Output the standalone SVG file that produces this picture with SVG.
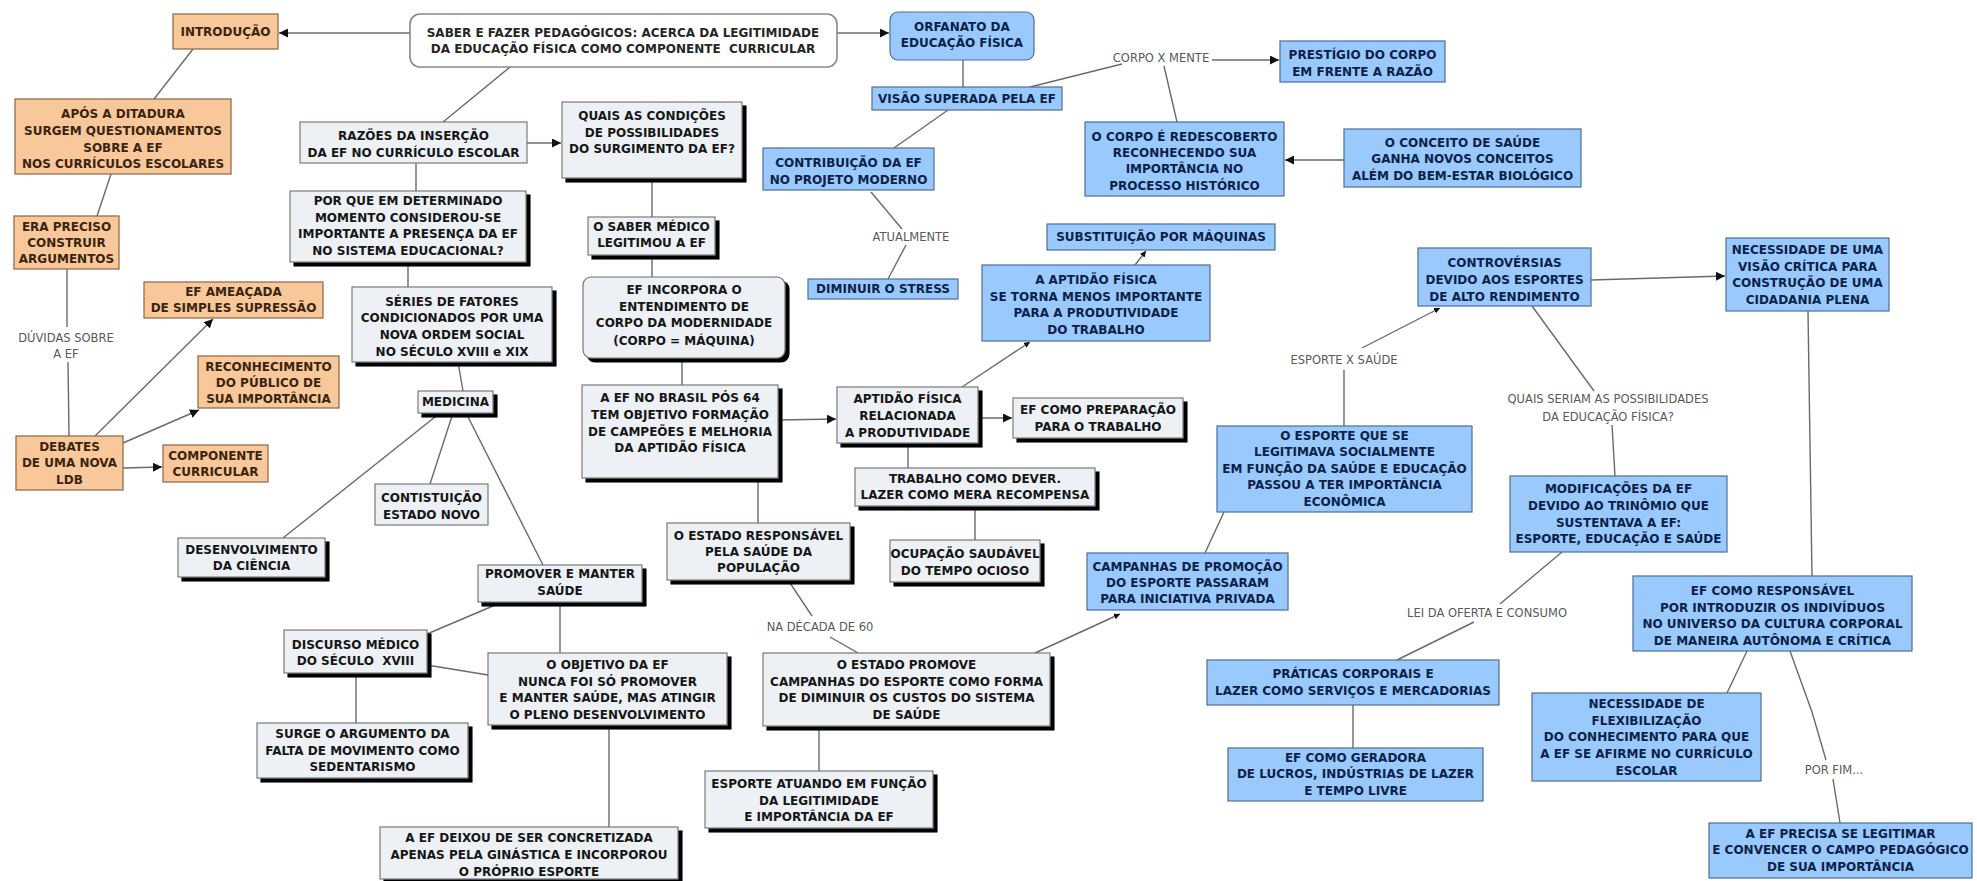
<svg xmlns="http://www.w3.org/2000/svg" width="1977" height="881" viewBox="0 0 1977 881">
<style>
  .bg{fill:#ffffff}
  .o rect{fill:#F8C89A;stroke:#8F6440;stroke-width:1.2}
  .o text{fill:#3A2410}
  .g rect{fill:#EDF1F5;stroke:#6E6E6E;stroke-width:1.1}
  .g text{fill:#161616}
  .s rect{filter:url(#shadow)}
  .b rect{fill:#9ACAFD;stroke:#4E6E96;stroke-width:1.2}
  .b text{fill:#0C2148}
  .w rect{fill:#ffffff;stroke:#8A8A8A;stroke-width:1.6}
  .w text{fill:#262626}
  .node text{font-family:"DejaVu Sans",Verdana,sans-serif;font-weight:bold;font-size:12px;text-anchor:middle}
  .lbl{font-family:"DejaVu Sans",Verdana,sans-serif;font-size:11.5px;fill:#595959;text-anchor:middle}
  .c line,.c polyline{stroke:#6A6A6A;stroke-width:1.4;fill:none}
  .c .a{marker-end:url(#ah)}
  .c .sa{marker-end:url(#ahs)}
</style>
<defs>
  <filter id="shadow" x="-5%" y="-5%" width="115%" height="125%">
    <feOffset in="SourceAlpha" dx="4" dy="4" result="off"/>
    <feGaussianBlur in="off" stdDeviation="0.7" result="blur"/>
    <feMerge><feMergeNode in="blur"/><feMergeNode in="SourceGraphic"/></feMerge>
  </filter>
  <marker id="ah" viewBox="0 0 10 10" refX="10" refY="5" markerWidth="9" markerHeight="9" markerUnits="userSpaceOnUse" orient="auto">
    <path d="M0,0 L10,5 L0,10 z" fill="#111"/>
  </marker>
  <marker id="ahs" viewBox="0 0 10 10" refX="10" refY="5" markerWidth="6" markerHeight="6" markerUnits="userSpaceOnUse" orient="auto">
    <path d="M0,0 L10,5 L0,10 z" fill="#111"/>
  </marker>
</defs>
<rect class="bg" x="0" y="0" width="1977" height="881"/>

<!-- connectors and their labels -->
<g id="connectors" class="c">
  <line class="a" x1="410" y1="33" x2="279" y2="33"/>
  <line class="a" x1="837" y1="33" x2="889" y2="33"/>
  <line x1="510" y1="67" x2="443" y2="122"/>
  <line x1="193" y1="49" x2="154" y2="99"/>
  <line x1="111" y1="174" x2="97" y2="216"/>
  <line x1="67" y1="269" x2="67" y2="327"/>
  <line x1="68" y1="362" x2="69" y2="436"/>
  <line class="a" x1="95" y1="436" x2="213" y2="319"/>
  <line class="a" x1="123" y1="443" x2="199" y2="410"/>
  <line class="a" x1="123" y1="468" x2="162" y2="467"/>
  <line class="a" x1="527" y1="143" x2="561" y2="143"/>
  <line x1="416" y1="163" x2="416" y2="191"/>
  <line x1="408" y1="262" x2="408" y2="287"/>
  <line x1="458" y1="362" x2="463" y2="391"/>
  <line x1="440" y1="413" x2="283" y2="538"/>
  <line x1="453" y1="413" x2="430" y2="484"/>
  <line x1="466" y1="413" x2="543" y2="565"/>
  <line x1="500" y1="603" x2="427" y2="634"/>
  <line x1="560" y1="602" x2="560" y2="653"/>
  <line x1="427" y1="665" x2="488" y2="675"/>
  <line x1="356" y1="673" x2="356" y2="723"/>
  <line x1="609" y1="725" x2="609" y2="827"/>
  <line x1="652" y1="178" x2="652" y2="217"/>
  <line x1="652" y1="255" x2="652" y2="277"/>
  <line x1="682" y1="358" x2="682" y2="385"/>
  <line class="a" x1="778" y1="420" x2="836" y2="419"/>
  <line x1="758" y1="478" x2="758" y2="523"/>
  <line x1="788" y1="580" x2="812" y2="616"/>
  <line x1="830" y1="637" x2="858" y2="653"/>
  <line x1="819" y1="726" x2="819" y2="771"/>
  <line class="sa" x1="1035" y1="653" x2="1120" y2="614"/>
  <line x1="1205" y1="553" x2="1224" y2="512"/>
  <line x1="1344" y1="426" x2="1344" y2="370"/>
  <line class="sa" x1="1362" y1="348" x2="1440" y2="308"/>
  <line class="a" x1="1591" y1="280" x2="1725" y2="276"/>
  <line x1="1532" y1="306" x2="1594" y2="391"/>
  <line x1="1612" y1="425" x2="1615" y2="476"/>
  <line x1="1562" y1="552" x2="1500" y2="604"/>
  <line x1="1474" y1="622" x2="1397" y2="660"/>
  <line x1="1353" y1="705" x2="1353" y2="748"/>
  <line x1="1808" y1="311" x2="1812" y2="576"/>
  <line x1="1747" y1="651" x2="1727" y2="693"/>
  <polyline points="1790,651 1812,712 1826,760"/>
  <line x1="1833" y1="779" x2="1840" y2="823"/>
  <line class="sa" x1="1135" y1="265" x2="1146" y2="251"/>
  <line class="sa" x1="962" y1="387" x2="1030" y2="342"/>
  <line class="a" x1="978" y1="418" x2="1012" y2="418"/>
  <line x1="908" y1="443" x2="908" y2="468"/>
  <line x1="975" y1="506" x2="975" y2="540"/>
  <line x1="963" y1="60" x2="963" y2="87"/>
  <line x1="1030" y1="87" x2="1122" y2="64"/>
  <line class="a" x1="1212" y1="60" x2="1279" y2="60"/>
  <line x1="1164" y1="66" x2="1177" y2="122"/>
  <line class="a" x1="1344" y1="160" x2="1285" y2="160"/>
  <line x1="948" y1="110" x2="894" y2="148"/>
  <line x1="871" y1="192" x2="902" y2="229"/>
  <line x1="906" y1="245" x2="888" y2="279"/>

  <text class="lbl" x="66" y="342">DÚVIDAS SOBRE</text>
  <text class="lbl" x="66" y="358">A EF</text>
  <text class="lbl" x="1161" y="62">CORPO X MENTE</text>
  <text class="lbl" x="911" y="241">ATUALMENTE</text>
  <text class="lbl" x="1344" y="364">ESPORTE X SAÚDE</text>
  <text class="lbl" x="1608" y="403">QUAIS SERIAM AS POSSIBILIDADES</text>
  <text class="lbl" x="1608" y="421">DA EDUCAÇÃO FÍSICA?</text>
  <text class="lbl" x="820" y="631">NA DÉCADA DE 60</text>
  <text class="lbl" x="1487" y="617">LEI DA OFERTA E CONSUMO</text>
  <text class="lbl" x="1834" y="774">POR FIM...</text>
</g>

<!-- root -->
<g id="n-root" class="node w">
  <rect x="410" y="14" width="427" height="53" rx="10"/>
  <text xml:space="preserve"><tspan x="623" y="37">SABER E FAZER PEDAGÓGICOS: ACERCA DA LEGITIMIDADE</tspan><tspan x="623" y="53">DA EDUCAÇÃO FÍSICA COMO COMPONENTE  CURRICULAR</tspan></text>
</g>

<!-- introduction branch -->
<g id="n-intro" class="node o">
  <rect x="173" y="14" width="105" height="35"/>
  <text><tspan x="225.5" y="36">INTRODUÇÃO</tspan></text>
</g>
<g id="n-apos" class="node o">
  <rect x="15" y="99" width="216" height="75"/>
  <text><tspan x="123" y="118">APÓS A DITADURA</tspan><tspan x="123" y="135">SURGEM QUESTIONAMENTOS</tspan><tspan x="123" y="152">SOBRE A EF</tspan><tspan x="123" y="168">NOS CURRÍCULOS ESCOLARES</tspan></text>
</g>
<g id="n-era" class="node o">
  <rect x="14" y="216" width="105" height="53"/>
  <text><tspan x="66.5" y="231">ERA PRECISO</tspan><tspan x="66.5" y="247">CONSTRUIR</tspan><tspan x="66.5" y="263">ARGUMENTOS</tspan></text>
</g>
<g id="n-ameacada" class="node o">
  <rect x="144" y="282" width="179" height="36"/>
  <text><tspan x="233.5" y="296">EF AMEAÇADA</tspan><tspan x="233.5" y="312">DE SIMPLES SUPRESSÃO</tspan></text>
</g>
<g id="n-reconhecimento" class="node o">
  <rect x="198" y="356" width="141" height="52"/>
  <text><tspan x="268.5" y="371">RECONHECIMENTO</tspan><tspan x="268.5" y="387">DO PÚBLICO DE</tspan><tspan x="268.5" y="403">SUA IMPORTÂNCIA</tspan></text>
</g>
<g id="n-debates" class="node o">
  <rect x="16" y="436" width="107" height="54"/>
  <text><tspan x="69.5" y="451">DEBATES</tspan><tspan x="69.5" y="467">DE UMA NOVA</tspan><tspan x="69.5" y="484">LDB</tspan></text>
</g>
<g id="n-componente" class="node o">
  <rect x="163" y="445" width="105" height="37"/>
  <text><tspan x="215.5" y="460">COMPONENTE</tspan><tspan x="215.5" y="476">CURRICULAR</tspan></text>
</g>

<!-- reasons branch -->
<g id="n-razoes" class="node g">
  <rect x="300" y="122" width="227" height="41"/>
  <text><tspan x="413.5" y="140">RAZÕES DA INSERÇÃO</tspan><tspan x="413.5" y="157">DA EF NO CURRÍCULO ESCOLAR</tspan></text>
</g>
<g id="n-quais" class="node g s">
  <rect x="562" y="102" width="180" height="76"/>
  <text><tspan x="652" y="120">QUAIS AS CONDIÇÕES</tspan><tspan x="652" y="137">DE POSSIBILIDADES</tspan><tspan x="652" y="153">DO SURGIMENTO DA EF?</tspan></text>
</g>
<g id="n-porque" class="node g s">
  <rect x="290" y="191" width="236" height="71"/>
  <text><tspan x="408" y="205">POR QUE EM DETERMINADO</tspan><tspan x="408" y="222">MOMENTO CONSIDEROU-SE</tspan><tspan x="408" y="238">IMPORTANTE A PRESENÇA DA EF</tspan><tspan x="408" y="255">NO SISTEMA EDUCACIONAL?</tspan></text>
</g>
<g id="n-saber" class="node g s">
  <rect x="588" y="217" width="127" height="38"/>
  <text><tspan x="651.5" y="231">O SABER MÉDICO</tspan><tspan x="651.5" y="247">LEGITIMOU A EF</tspan></text>
</g>
<g id="n-incorpora" class="node g s">
  <rect x="583" y="277" width="202" height="81" rx="8"/>
  <text><tspan x="684" y="294">EF INCORPORA O</tspan><tspan x="684" y="311">ENTENDIMENTO DE</tspan><tspan x="684" y="327">CORPO DA MODERNIDADE</tspan><tspan x="684" y="345">(CORPO = MÁQUINA)</tspan></text>
</g>
<g id="n-series" class="node g s">
  <rect x="352" y="287" width="200" height="75"/>
  <text><tspan x="452" y="306">SÉRIES DE FATORES</tspan><tspan x="452" y="322">CONDICIONADOS POR UMA</tspan><tspan x="452" y="339">NOVA ORDEM SOCIAL</tspan><tspan x="452" y="356">NO SÉCULO XVIII e XIX</tspan></text>
</g>
<g id="n-medicina" class="node g s">
  <rect x="418" y="391" width="75" height="22"/>
  <text><tspan x="455.5" y="406">MEDICINA</tspan></text>
</g>
<g id="n-constituicao" class="node g">
  <rect x="375" y="484" width="113" height="41"/>
  <text><tspan x="431.5" y="502">CONTISTUIÇÃO</tspan><tspan x="431.5" y="519">ESTADO NOVO</tspan></text>
</g>
<g id="n-desenvolvimento" class="node g s">
  <rect x="178" y="538" width="147" height="39"/>
  <text><tspan x="251.5" y="554">DESENVOLVIMENTO</tspan><tspan x="251.5" y="570">DA CIÊNCIA</tspan></text>
</g>
<g id="n-promover" class="node g s">
  <rect x="478" y="565" width="164" height="37"/>
  <text><tspan x="560" y="578">PROMOVER E MANTER</tspan><tspan x="560" y="595">SAÚDE</tspan></text>
</g>
<g id="n-discurso" class="node g s">
  <rect x="284" y="630" width="143" height="43"/>
  <text xml:space="preserve"><tspan x="355.5" y="649">DISCURSO MÉDICO</tspan><tspan x="355.5" y="665">DO SÉCULO  XVIII</tspan></text>
</g>
<g id="n-objetivo" class="node g s">
  <rect x="488" y="653" width="239" height="72"/>
  <text><tspan x="607.5" y="669">O OBJETIVO DA EF</tspan><tspan x="607.5" y="686">NUNCA FOI SÓ PROMOVER</tspan><tspan x="607.5" y="702">E MANTER SAÚDE, MAS ATINGIR</tspan><tspan x="607.5" y="719">O PLENO DESENVOLVIMENTO</tspan></text>
</g>
<g id="n-surge" class="node g s">
  <rect x="257" y="723" width="211" height="55"/>
  <text><tspan x="362.5" y="738">SURGE O ARGUMENTO DA</tspan><tspan x="362.5" y="755">FALTA DE MOVIMENTO COMO</tspan><tspan x="362.5" y="771">SEDENTARISMO</tspan></text>
</g>
<g id="n-deixou" class="node g s">
  <rect x="380" y="827" width="298" height="52"/>
  <text><tspan x="529" y="842">A EF DEIXOU DE SER CONCRETIZADA</tspan><tspan x="529" y="859">APENAS PELA GINÁSTICA E INCORPOROU</tspan><tspan x="529" y="876">O PRÓPRIO ESPORTE</tspan></text>
</g>
<g id="n-brasil" class="node g s">
  <rect x="582" y="385" width="196" height="93"/>
  <text><tspan x="680" y="402">A EF NO BRASIL PÓS 64</tspan><tspan x="680" y="419">TEM OBJETIVO FORMAÇÃO</tspan><tspan x="680" y="436">DE CAMPEÕES E MELHORIA</tspan><tspan x="680" y="452">DA APTIDÃO FÍSICA</tspan></text>
</g>
<g id="n-aptidao" class="node g s">
  <rect x="837" y="387" width="141" height="56"/>
  <text><tspan x="907.5" y="403">APTIDÃO FÍSICA</tspan><tspan x="907.5" y="420">RELACIONADA</tspan><tspan x="907.5" y="437">A PRODUTIVIDADE</tspan></text>
</g>
<g id="n-preparacao" class="node g s">
  <rect x="1013" y="398" width="170" height="40"/>
  <text><tspan x="1098" y="414">EF COMO PREPARAÇÃO</tspan><tspan x="1098" y="431">PARA O TRABALHO</tspan></text>
</g>
<g id="n-trabalho" class="node g s">
  <rect x="855" y="468" width="240" height="38"/>
  <text><tspan x="975" y="483">TRABALHO COMO DEVER.</tspan><tspan x="975" y="499">LAZER COMO MERA RECOMPENSA</tspan></text>
</g>
<g id="n-ocupacao" class="node g s">
  <rect x="890" y="540" width="150" height="42"/>
  <text><tspan x="965" y="558">OCUPAÇÃO SAUDÁVEL</tspan><tspan x="965" y="575">DO TEMPO OCIOSO</tspan></text>
</g>
<g id="n-estado-resp" class="node g s">
  <rect x="667" y="523" width="183" height="57"/>
  <text><tspan x="758.5" y="540">O ESTADO RESPONSÁVEL</tspan><tspan x="758.5" y="556">PELA SAÚDE DA</tspan><tspan x="758.5" y="572">POPULAÇÃO</tspan></text>
</g>
<g id="n-estado-promove" class="node g s">
  <rect x="763" y="653" width="287" height="73"/>
  <text><tspan x="906.5" y="669">O ESTADO PROMOVE</tspan><tspan x="906.5" y="686">CAMPANHAS DO ESPORTE COMO FORMA</tspan><tspan x="906.5" y="702">DE DIMINUIR OS CUSTOS DO SISTEMA</tspan><tspan x="906.5" y="719">DE SAÚDE</tspan></text>
</g>
<g id="n-atuando" class="node g s">
  <rect x="705" y="771" width="228" height="57"/>
  <text><tspan x="819" y="788">ESPORTE ATUANDO EM FUNÇÃO</tspan><tspan x="819" y="805">DA LEGITIMIDADE</tspan><tspan x="819" y="821">E IMPORTÂNCIA DA EF</tspan></text>
</g>

<!-- orphanhood branch -->
<g id="n-orfanato" class="node b">
  <rect x="890" y="12" width="144" height="48" rx="8"/>
  <text><tspan x="962" y="31">ORFANATO DA</tspan><tspan x="962" y="47">EDUCAÇÃO FÍSICA</tspan></text>
</g>
<g id="n-visao" class="node b">
  <rect x="872" y="87" width="190" height="23"/>
  <text><tspan x="967" y="103">VISÃO SUPERADA PELA EF</tspan></text>
</g>
<g id="n-prestigio" class="node b">
  <rect x="1280" y="41" width="165" height="41"/>
  <text><tspan x="1362.5" y="59">PRESTÍGIO DO CORPO</tspan><tspan x="1362.5" y="76">EM FRENTE A RAZÃO</tspan></text>
</g>
<g id="n-corpo" class="node b">
  <rect x="1085" y="122" width="199" height="74"/>
  <text><tspan x="1184.5" y="141">O CORPO É REDESCOBERTO</tspan><tspan x="1184.5" y="157">RECONHECENDO SUA</tspan><tspan x="1184.5" y="173">IMPORTÂNCIA NO</tspan><tspan x="1184.5" y="190">PROCESSO HISTÓRICO</tspan></text>
</g>
<g id="n-conceito" class="node b">
  <rect x="1344" y="129" width="237" height="58"/>
  <text><tspan x="1462.5" y="147">O CONCEITO DE SAÚDE</tspan><tspan x="1462.5" y="163">GANHA NOVOS CONCEITOS</tspan><tspan x="1462.5" y="180">ALÉM DO BEM-ESTAR BIOLÓGICO</tspan></text>
</g>
<g id="n-contribuicao" class="node b">
  <rect x="763" y="148" width="171" height="42"/>
  <text><tspan x="848.5" y="167">CONTRIBUIÇÃO DA EF</tspan><tspan x="848.5" y="184">NO PROJETO MODERNO</tspan></text>
</g>
<g id="n-stress" class="node b">
  <rect x="808" y="279" width="150" height="20"/>
  <text><tspan x="883" y="293">DIMINUIR O STRESS</tspan></text>
</g>
<g id="n-substituicao" class="node b">
  <rect x="1047" y="224" width="228" height="26"/>
  <text><tspan x="1161" y="241">SUBSTITUIÇÃO POR MÁQUINAS</tspan></text>
</g>
<g id="n-aptidao-menos" class="node b">
  <rect x="982" y="265" width="228" height="76"/>
  <text><tspan x="1096" y="284">A APTIDÃO FÍSICA</tspan><tspan x="1096" y="301">SE TORNA MENOS IMPORTANTE</tspan><tspan x="1096" y="317">PARA A PRODUTIVIDADE</tspan><tspan x="1096" y="334">DO TRABALHO</tspan></text>
</g>

<!-- sport branch -->
<g id="n-controversias" class="node b">
  <rect x="1418" y="248" width="173" height="58"/>
  <text><tspan x="1504.5" y="267">CONTROVÉRSIAS</tspan><tspan x="1504.5" y="284">DEVIDO AOS ESPORTES</tspan><tspan x="1504.5" y="301">DE ALTO RENDIMENTO</tspan></text>
</g>
<g id="n-visao-critica" class="node b">
  <rect x="1726" y="238" width="163" height="73"/>
  <text><tspan x="1807.5" y="254">NECESSIDADE DE UMA</tspan><tspan x="1807.5" y="271">VISÃO CRÍTICA PARA</tspan><tspan x="1807.5" y="287">CONSTRUÇÃO DE UMA</tspan><tspan x="1807.5" y="304">CIDADANIA PLENA</tspan></text>
</g>
<g id="n-esporte" class="node b">
  <rect x="1217" y="426" width="255" height="86"/>
  <text><tspan x="1344.5" y="440">O ESPORTE QUE SE</tspan><tspan x="1344.5" y="456">LEGITIMAVA SOCIALMENTE</tspan><tspan x="1344.5" y="473">EM FUNÇÃO DA SAÚDE E EDUCAÇÃO</tspan><tspan x="1344.5" y="489">PASSOU A TER IMPORTÂNCIA</tspan><tspan x="1344.5" y="506">ECONÔMICA</tspan></text>
</g>
<g id="n-campanhas" class="node b">
  <rect x="1087" y="553" width="201" height="57"/>
  <text><tspan x="1187.5" y="571">CAMPANHAS DE PROMOÇÃO</tspan><tspan x="1187.5" y="587">DO ESPORTE PASSARAM</tspan><tspan x="1187.5" y="603">PARA INICIATIVA PRIVADA</tspan></text>
</g>
<g id="n-modificacoes" class="node b">
  <rect x="1510" y="476" width="217" height="76"/>
  <text><tspan x="1618.5" y="493">MODIFICAÇÕES DA EF</tspan><tspan x="1618.5" y="510">DEVIDO AO TRINÔMIO QUE</tspan><tspan x="1618.5" y="527">SUSTENTAVA A EF:</tspan><tspan x="1618.5" y="543">ESPORTE, EDUCAÇÃO E SAÚDE</tspan></text>
</g>
<g id="n-praticas" class="node b">
  <rect x="1207" y="660" width="292" height="45"/>
  <text><tspan x="1353" y="678">PRÁTICAS CORPORAIS E</tspan><tspan x="1353" y="695">LAZER COMO SERVIÇOS E MERCADORIAS</tspan></text>
</g>
<g id="n-geradora" class="node b">
  <rect x="1228" y="748" width="255" height="53"/>
  <text><tspan x="1355.5" y="762">EF COMO GERADORA</tspan><tspan x="1355.5" y="778">DE LUCROS, INDÚSTRIAS DE LAZER</tspan><tspan x="1355.5" y="795">E TEMPO LIVRE</tspan></text>
</g>
<g id="n-responsavel" class="node b">
  <rect x="1633" y="576" width="279" height="75"/>
  <text><tspan x="1772.5" y="595">EF COMO RESPONSÁVEL</tspan><tspan x="1772.5" y="612">POR INTRODUZIR OS INDIVÍDUOS</tspan><tspan x="1772.5" y="628">NO UNIVERSO DA CULTURA CORPORAL</tspan><tspan x="1772.5" y="645">DE MANEIRA AUTÔNOMA E CRÍTICA</tspan></text>
</g>
<g id="n-flexibilizacao" class="node b">
  <rect x="1532" y="693" width="229" height="88"/>
  <text><tspan x="1646.5" y="708">NECESSIDADE DE</tspan><tspan x="1646.5" y="725">FLEXIBILIZAÇÃO</tspan><tspan x="1646.5" y="741">DO CONHECIMENTO PARA QUE</tspan><tspan x="1646.5" y="758">A EF SE AFIRME NO CURRÍCULO</tspan><tspan x="1646.5" y="775">ESCOLAR</tspan></text>
</g>
<g id="n-precisa" class="node b">
  <rect x="1709" y="823" width="263" height="55"/>
  <text><tspan x="1840.5" y="838">A EF PRECISA SE LEGITIMAR</tspan><tspan x="1840.5" y="854">E CONVENCER O CAMPO PEDAGÓGICO</tspan><tspan x="1840.5" y="871">DE SUA IMPORTÂNCIA</tspan></text>
</g>
</svg>
